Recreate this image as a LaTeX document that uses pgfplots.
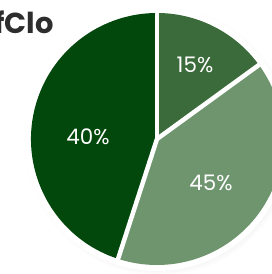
\documentclass[border=0pt]{standalone}
\usepackage{pgfplots}
\pgfplotsset{compat=1.18}
\usepackage{pgfplotstable}
\usepackage{fontspec}
\setmainfont{Poppins}
\usetikzlibrary{shadows}
\definecolor{cdark}{RGB}{2,72,13}
\definecolor{cmid}{RGB}{59,107,59}
\definecolor{clight}{RGB}{111,149,111}
\definecolor{ctitle}{RGB}{45,45,45}

% slice values, clockwise from the top
\pgfplotstableread{
value
15
40
45
}\piedata
% label positions (picture units) and label values
\pgfplotstableread{
x y lab
195 209 15
211 91 45
88 137 40
}\labdata

\pgfplotstablegetelem{0}{value}\of\piedata\let\vA\pgfplotsretval
\pgfplotstablegetelem{1}{value}\of\piedata\let\vB\pgfplotsretval
\pgfplotstablegetelem{2}{value}\of\piedata\let\vC\pgfplotsretval
\pgfmathsetmacro\aA{90}
\pgfmathsetmacro\aB{\aA-3.6*\vA}
\pgfmathsetmacro\aC{\aB-3.6*\vB}
\pgfmathsetmacro\aD{\aC-3.6*\vC}

\begin{document}
\begin{tikzpicture}
\begin{axis}[x=1bp,y=1bp,xmin=0,xmax=272,ymin=0,ymax=274,
  hide axis,clip=false]
  % outer white ring with shadow
  \fill[white,circular drop shadow={shadow xshift=2bp,shadow yshift=-2bp,opacity=0.22,shadow scale=1.02}]
    (axis cs:157,135) circle[radius=132bp];
  \fill[cdark] (axis cs:157,135) -- ++(\aC:126bp) arc[start angle=\aC,end angle=\aD,radius=126bp] -- cycle;
  \fill[clight] (axis cs:157,135) -- ++(\aB:126bp) arc[start angle=\aB,end angle=\aC,radius=126bp] -- cycle;
  \fill[cmid] (axis cs:157,135) -- ++(\aA:126bp) arc[start angle=\aA,end angle=\aB,radius=126bp] -- cycle;
  \draw[white,line width=4.5bp] (axis cs:157,135) -- ++(\aA:128bp);
  \draw[white,line width=4.5bp] (axis cs:157,135) -- ++(\aB:128bp);
  \draw[white,line width=4.5bp] (axis cs:157,135) -- ++(\aC:128bp);
  \addplot[only marks,mark=none,point meta=explicit symbolic,
    nodes near coords={\pgfplotspointmeta\%},
    nodes near coords style={anchor=center,text=white,font=\fontsize{21.5}{22}\selectfont}]
    table[x=x,y=y,meta=lab]{\labdata};
  \node[anchor=base east,text=ctitle,font=\fontsize{29}{29}\selectfont\bfseries,inner sep=0pt]
    at (axis cs:54,241) {fClo};
\end{axis}
\pgfresetboundingbox
\useasboundingbox (0,0) rectangle (272bp,274bp);
\end{tikzpicture}
\end{document}
